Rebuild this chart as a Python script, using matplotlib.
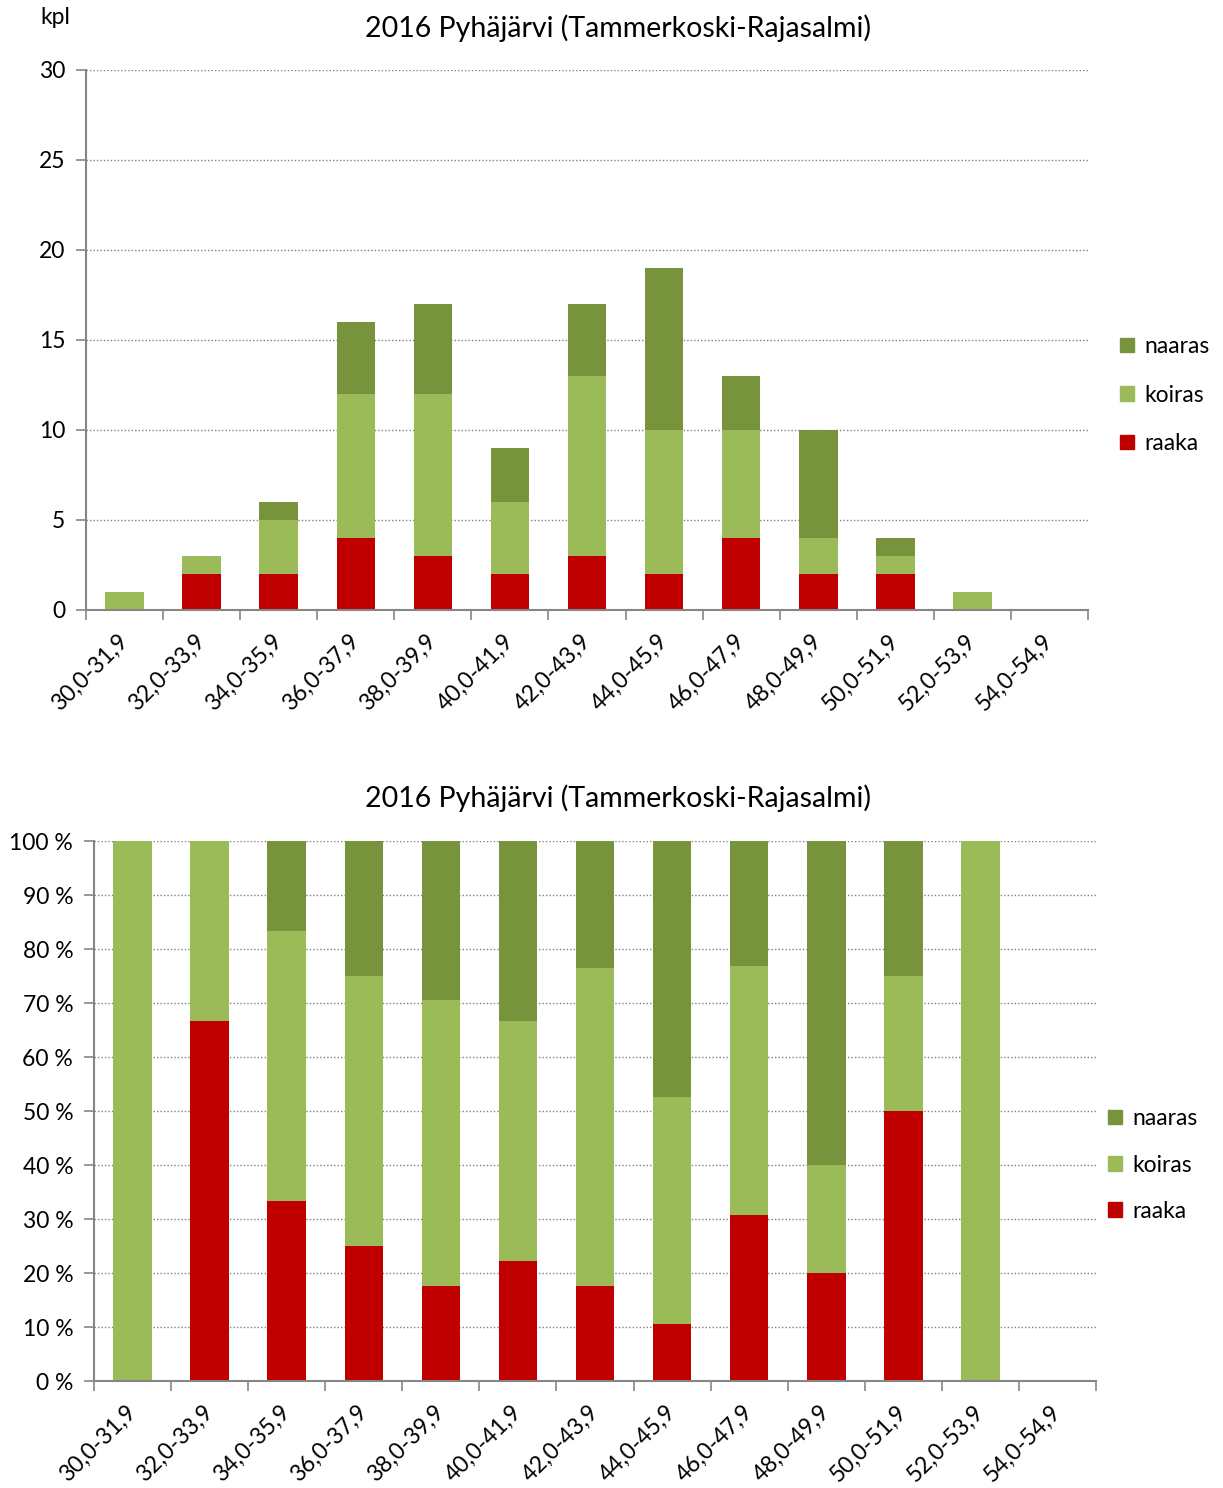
import matplotlib
matplotlib.use("Agg")
import matplotlib.pyplot as plt
import numpy as np
from matplotlib.patches import Patch

plt.rcParams['font.family'] = ['Lato', 'DejaVu Sans']

categories = ["30,0-31,9", "32,0-33,9", "34,0-35,9", "36,0-37,9", "38,0-39,9",
              "40,0-41,9", "42,0-43,9", "44,0-45,9", "46,0-47,9", "48,0-49,9",
              "50,0-51,9", "52,0-53,9", "54,0-54,9"]
raaka = [0, 2, 2, 4, 3, 2, 3, 2, 4, 2, 2, 0, 0]
koiras = [1, 1, 3, 8, 9, 4, 10, 8, 6, 2, 1, 1, 0]
naaras = [0, 0, 1, 4, 5, 3, 4, 9, 3, 6, 1, 0, 0]

title = "2016 Pyhäjärvi (Tammerkoski-Rajasalmi)"
c_raaka = "#C00000"
c_koiras = "#9BBB59"
c_naaras = "#77933C"
axis_col = "#868686"
FS = 16.5

fig = plt.figure(figsize=(12.23, 14.88), dpi=100)

def style_axes(ax, ymax, ystep, fmt):
    n = len(categories)
    x = np.arange(n)
    ax.set_xlim(-0.5, n - 0.5)
    ax.set_ylim(0, ymax)
    ax.set_yticks(np.arange(0, ymax + 0.001, ystep))
    ax.set_yticklabels([fmt(v) for v in np.arange(0, ymax + 0.001, ystep)], fontsize=FS)
    ax.set_xticks(x)
    ax.set_xticklabels(categories, rotation=45, ha='right', va='center',
                       rotation_mode='anchor', fontsize=FS)
    ax.tick_params(axis='x', which='major', length=0, pad=20)
    ax.set_xticks(np.arange(-0.5, n + 0.5, 1), minor=True)
    ax.tick_params(axis='x', which='minor', length=7, color=axis_col, width=1.2, direction='out')
    ax.tick_params(axis='y', length=7, color=axis_col, width=1.2, direction='out', pad=8)
    for s in ['top', 'right']:
        ax.spines[s].set_visible(False)
    for s in ['left', 'bottom']:
        ax.spines[s].set_color(axis_col)
        ax.spines[s].set_linewidth(1.5)
    ax.set_axisbelow(True)
    ax.yaxis.grid(True, linestyle=(0, (1, 1.5)), color='#808080', linewidth=1.0)
    return x

# Top chart
ax1 = fig.add_axes([86/1223, 1 - 610/1488, (1088-86)/1223, 540/1488])
x = style_axes(ax1, 30, 5, lambda v: f"{int(v)}")
ax1.bar(x, raaka, width=0.5, color=c_raaka, label='raaka')
ax1.bar(x, koiras, width=0.5, bottom=raaka, color=c_koiras, label='koiras')
ax1.bar(x, naaras, width=0.5, bottom=np.array(raaka) + np.array(koiras), color=c_naaras, label='naaras')
fig.text(618/1223, 1 - 28/1488, title, ha='center', va='center', fontsize=20.5)
fig.text(55/1223, 1 - 18/1488, "kpl", ha='center', va='center', fontsize=FS)

handles = [Patch(color=c_naaras), Patch(color=c_koiras), Patch(color=c_raaka)]
labels = ['naaras', 'koiras', 'raaka']
fig.legend(handles, labels, loc='center left', bbox_to_anchor=(1120/1223, 1 - 395/1488),
           frameon=False, fontsize=FS, handlelength=0.6, handleheight=0.6,
           handletextpad=0.45, labelspacing=1.2, borderaxespad=0, borderpad=0)

# Bottom chart (percent)
tot = np.array(raaka) + np.array(koiras) + np.array(naaras)
safe = np.where(tot == 0, 1, tot)
p_r = np.array(raaka) / safe * 100
p_k = np.array(koiras) / safe * 100
p_n = np.array(naaras) / safe * 100

ax2 = fig.add_axes([94/1223, 1 - 1381/1488, (1096-94)/1223, 540/1488])
x = style_axes(ax2, 100, 10, lambda v: f"{int(v)} %")
ax2.bar(x, p_r, width=0.5, color=c_raaka)
ax2.bar(x, p_k, width=0.5, bottom=p_r, color=c_koiras)
ax2.bar(x, p_n, width=0.5, bottom=p_r + p_k, color=c_naaras)
fig.text(618/1223, 1 - 798/1488, title, ha='center', va='center', fontsize=20.5)
fig.legend(handles, labels, loc='center left', bbox_to_anchor=(1108/1223, 1 - 1165/1488),
           frameon=False, fontsize=FS, handlelength=0.6, handleheight=0.6,
           handletextpad=0.45, labelspacing=1.1, borderaxespad=0, borderpad=0)

fig.savefig("out.png", dpi=100)
